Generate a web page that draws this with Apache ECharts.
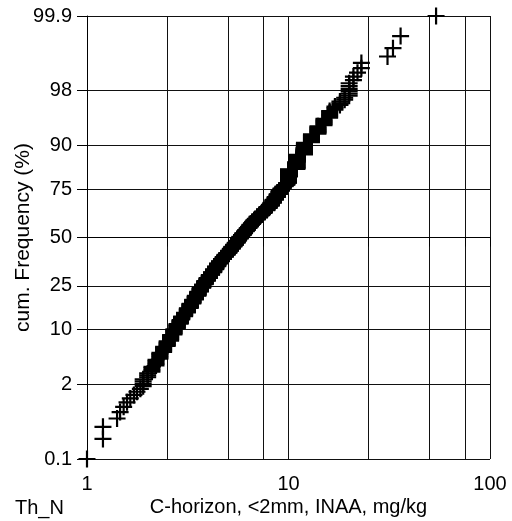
<!DOCTYPE html>
<html><head><meta charset="utf-8">
<script src="https://cdn.jsdelivr.net/npm/echarts@6/dist/echarts.min.js"></script>
<style>html,body{margin:0;padding:0;background:#fff}#c{width:512px;height:521px}</style>
</head><body><div id="c"></div>
<script>
// Th values (mg/kg), sorted, with number of samples at each value
const thValues = [1.0,1.2,1.41,1.46,1.52,1.58,1.64,1.71,1.77,1.84,
  1.9,2.0,2.1,2.2,2.3,2.4,2.5,2.6,2.7,2.8,2.9,
  2.95,3.05,3.15,3.25,3.35,3.45,3.55,3.65,3.75,3.85,
  3.95,4.05,4.15,4.25,4.35,4.45,4.55,4.65,4.75,4.85,
  4.95,5.05,5.15,5.25,5.35,5.45,5.55,5.65,5.75,5.85,
  5.95,6.05,6.15,6.25,6.35,6.45,6.55,6.65,6.75,6.85,
  7.0,7.2,7.4,7.6,7.8,
  8.0,8.2,8.4,8.6,8.8,9.0,9.2,9.4,9.6,9.8,
  10,11,12,13,14,15,16,17,18,19,
  20,21,22,23,31,33,36,54];
const thCounts = [1,2,1,1,1,1,1,1,1,1,
  4,3,4,5,6,6,6,8,8,8,7,
  6,7,9,10,9,9,10,10,9,10,
  8,9,8,9,9,9,7,7,7,7,
  6,7,7,7,6,7,7,7,6,6,
  6,6,5,6,5,6,5,5,5,5,
  7,7,7,6,7,
  7,9,9,8,8,9,7,5,4,5,
  32,28,19,11,9,7,6,3,3,2,
  6,2,1,2,1,1,1,1];
const nSamples = 605;
const yTickPct = [0.1,2,10,25,50,75,90,98,99.9];
const yTickLabels = ['0.1','2','10','25','50','75','90','98','99.9'];
const xGridValues = [1,2.5,5,7.5,10,25,50,75,100];
const xLabelValues = [1,10,100];

function qnorm(p){
  const a=[-3.969683028665376e+01,2.209460984245205e+02,-2.759285104469687e+02,1.383577518672690e+02,-3.066479806614716e+01,2.506628277459239e+00];
  const b=[-5.447609879822406e+01,1.615858368580409e+02,-1.556989798598866e+02,6.680131188771972e+01,-1.328068155288572e+01];
  const c=[-7.784894002430293e-03,-3.223964580411365e-01,-2.400758277161838e+00,-2.549732539343734e+00,4.374664141464968e+00,2.938163982698783e+00];
  const d=[7.784695709041462e-03,3.224671290700398e-01,2.445134137142996e+00,3.754408661907416e+00];
  const pl=0.02425, ph=1-pl; let q,r;
  if(p<pl){q=Math.sqrt(-2*Math.log(p));return (((((c[0]*q+c[1])*q+c[2])*q+c[3])*q+c[4])*q+c[5])/((((d[0]*q+d[1])*q+d[2])*q+d[3])*q+1);}
  if(p>ph){q=Math.sqrt(-2*Math.log(1-p));return -(((((c[0]*q+c[1])*q+c[2])*q+c[3])*q+c[4])*q+c[5])/((((d[0]*q+d[1])*q+d[2])*q+d[3])*q+1);}
  q=p-0.5;r=q*q;return (((((a[0]*r+a[1])*r+a[2])*r+a[3])*r+a[4])*r+a[5])*q/(((((b[0]*r+b[1])*r+b[2])*r+b[3])*r+b[4])*r+1);
}

const yTickZ = yTickPct.map(p => qnorm(p/100));
const yMin = yTickZ[0], yMax = yTickZ[yTickZ.length-1];

const points = [];
let rank = 0;
thValues.forEach((v,k) => {
  for (let j=0;j<thCounts[k];j++){
    rank++;
    let p = (rank-0.5)/nSamples;
    p = Math.min(Math.max(p, yTickPct[0]/100), yTickPct[yTickPct.length-1]/100);
    points.push([v, qnorm(p)]);
  }
});

const FONT = '"Liberation Sans", Arial, Helvetica, sans-serif';
const chart = echarts.init(document.getElementById('c'), null, {renderer:'canvas'});
chart.setOption({
  animation:false,
  backgroundColor:'#fff',
  grid:{left:87,right:22,top:16,bottom:62,containLabel:false,outerBoundsMode:'none'},
  xAxis:{
    type:'log', logBase:10, min:1, max:100,
    name:'C-horizon, <2mm, INAA, mg/kg', nameLocation:'middle', nameGap:38, nameMoveOverlap:false,
    nameTextStyle:{color:'#000',fontSize:20,fontFamily:FONT},
    axisLine:{show:true,lineStyle:{color:'#000',width:1}},
    axisTick:{show:true,inside:false,length:9,customValues:xGridValues,lineStyle:{color:'#000',width:1}},
    axisLabel:{customValues:xLabelValues,margin:15,color:'#000',fontSize:20,fontFamily:FONT},
    splitLine:{show:true,lineStyle:{color:'#111',width:1}},
    minorTick:{show:false}, minorSplitLine:{show:false}
  },
  yAxis:{
    type:'value', min:yMin-1e-7, max:yMax+1e-7,
    name:'cum. Frequency (%)', nameLocation:'middle', nameGap:53, nameRotate:90, nameMoveOverlap:false,
    nameTextStyle:{color:'#000',fontSize:21,fontFamily:FONT},
    axisLine:{show:true,lineStyle:{color:'#000',width:1}},
    axisTick:{show:true,inside:false,length:10,customValues:yTickZ,lineStyle:{color:'#000',width:1}},
    axisLabel:{customValues:yTickZ,margin:15,color:'#000',fontSize:20,fontFamily:FONT,
      formatter:function(v){
        let best=0,bd=1e9;
        yTickZ.forEach((z,i)=>{const dd=Math.abs(z-v); if(dd<bd){bd=dd;best=i;}});
        return yTickLabels[best];
      }},
    splitLine:{show:true,lineStyle:{color:'#111',width:1}}
  },
  graphic:[{type:'text',left:15,top:498,style:{text:'Th_N',fill:'#000',font:'20px '+FONT}}],
  series:[{
    type:'scatter',
    data:points,
    clip:false,
    symbol:'path://M8,0L8,16M0,8L16,8',
    symbolSize:17,
    itemStyle:{color:'rgba(0,0,0,0)',borderColor:'#000',borderWidth:2.2,opacity:1},
    emphasis:{disabled:true},
    silent:true
  }]
});
</script></body></html>
